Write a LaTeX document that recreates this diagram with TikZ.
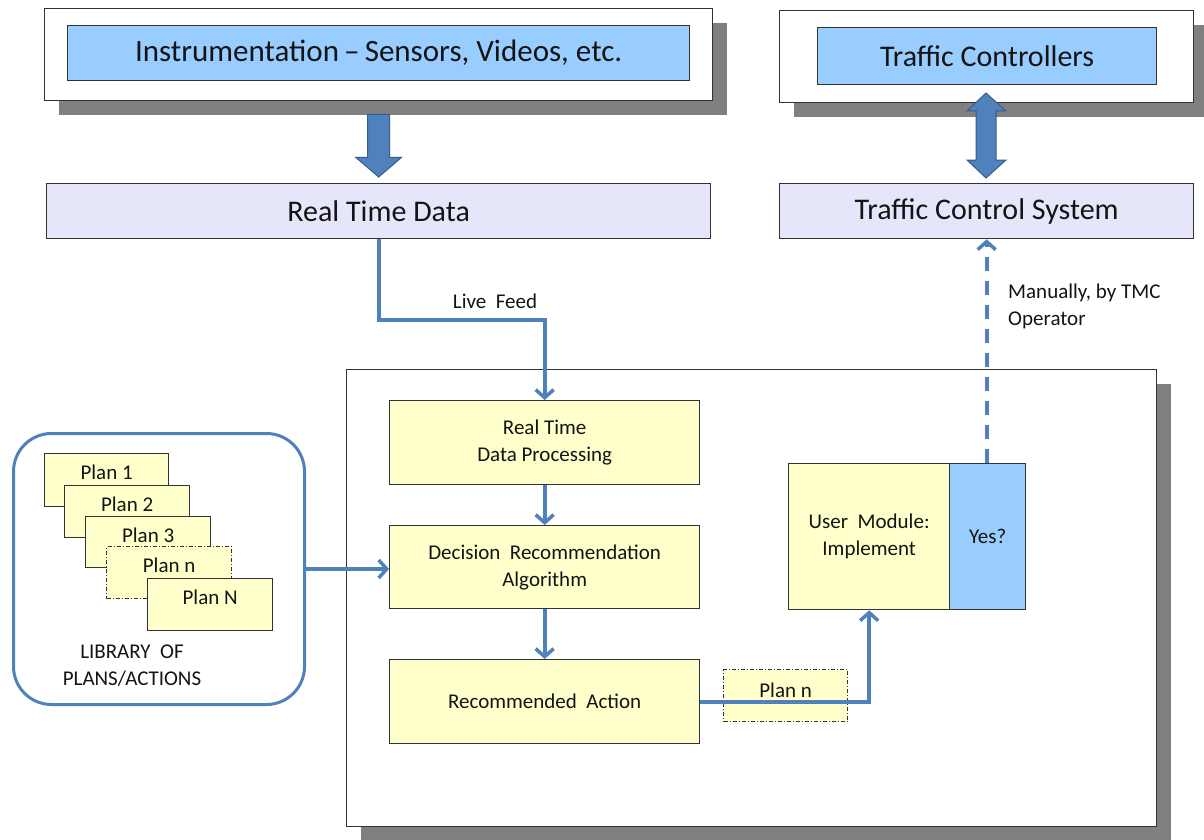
\documentclass[tikz,border=0pt]{standalone}
\usepackage{fontspec}
\setmainfont{Carlito}
\usetikzlibrary{arrows.meta,calc,shadows}
\definecolor{lblue}{RGB}{153,204,255}
\definecolor{lav}{RGB}{230,230,250}
\definecolor{lyel}{RGB}{255,255,204}
\definecolor{cblue}{RGB}{79,129,189}
\definecolor{cbord}{RGB}{56,93,138}
\definecolor{shad}{RGB}{128,128,128}
\definecolor{txt}{RGB}{20,20,20}
\tikzset{
  box/.style={draw=black!80, line width=1.3pt, inner sep=0pt, anchor=north west, align=center, text=txt},
  shadowed/.style={drop shadow={shadow xshift=14pt, shadow yshift=-14pt, fill=shad, opacity=1}},
  bigtxt/.style={font=\fontsize{30}{34}\selectfont},
  smtxt/.style={font=\fontsize{21}{27}\selectfont},
  yelbox/.style={box, fill=lyel, smtxt},
  planbox/.style={box, fill=lyel, minimum width=125pt, minimum height=52pt},
  plantxt/.style={smtxt, text=txt, anchor=north, inner sep=0pt, yshift=-12pt},
  conn/.style={draw=cblue, line width=3.8pt, -{Straight Barb[length=8pt,width=18pt,line width=3.5pt]}},
  blockarrow/.style={fill=cblue, draw=cbord, line width=1pt, line join=miter},
  dashdot/.style={dash pattern=on 4pt off 2pt on 1pt off 2pt},
}
\begin{document}
\begin{tikzpicture}[x=1pt,y=-1pt]
\useasboundingbox (0,0) rectangle (1204,840);
\fill[white] (0,0) rectangle (1204,840);

% top left
\node[box, fill=white, shadowed, minimum width=668pt, minimum height=92pt] (out1) at (44,8) {};
\node[box, fill=lblue, font=\fontsize{31}{34}\selectfont, minimum width=622pt, minimum height=55pt] (instr) at (67,25) {Instrumentation\,--\,Sensors, Videos, etc.};
\node[box, fill=lav, bigtxt, minimum width=664pt, minimum height=55pt] (rtd) at (46,183) {Real Time Data};

% top right
\node[box, fill=white, shadowed, minimum width=414pt, minimum height=92pt] (out2) at (779,10) {};
\node[box, fill=lblue, bigtxt, minimum width=339pt, minimum height=57pt] (tc) at (817,27) {Traffic Controllers};
\node[box, fill=lav, bigtxt, minimum width=414pt, minimum height=55pt] (tcs) at (779,183) {Traffic Control System};

% block arrows
\draw[blockarrow] ($(out1.south)+(-11,13)$) -- ($(out1.south)+(11,13)$) -- ($(out1.south)+(11,56)$)
  -- ($(out1.south)+(23,56)$) -- (rtd.north |- 0,177) -- ($(out1.south)+(-23,56)$) -- ($(out1.south)+(-11,56)$) -- cycle;
\coordinate (dtop) at (986,93);
\coordinate (dbot) at (986,178);
\draw[blockarrow] (dtop) -- ++(20,18) -- ++(-10,0) -- ++(0,49) -- ++(10,0) -- (dbot) -- ++(-19,-18) -- ++(9,0) -- ++(0,-49) -- ++(-9,0) -- cycle;

% main box
\node[box, fill=white, shadowed, minimum width=810pt, minimum height=457pt] (main) at (346,369) {};
\node[yelbox, minimum width=310pt, minimum height=84pt] (rtdp) at (389,400) {Real Time\\Data Processing};
\node[yelbox, minimum width=310pt, minimum height=83pt] (dra) at (389,525) {Decision\ \ Recommendation\\Algorithm};
\node[yelbox, minimum width=310pt, minimum height=84pt] (ra) at (389,659) {Recommended\ \ Action};
\node[yelbox, minimum width=161pt, minimum height=146pt] (um) at (788,463) {User\ \ Module:\\Implement};
\node[box, fill=lblue, smtxt, minimum width=76pt, minimum height=146pt] (yes) at (949,463) {Yes?};
\node[planbox, dashdot, minimum width=124pt] (pnb) at (723,669) {};
\node[plantxt, yshift=-2pt] (pnbt) at (pnb.north) {Plan n};

% library
\node[draw=cblue, line width=3pt, rounded corners=38pt, minimum width=291pt, minimum height=271pt, anchor=north west, inner sep=0pt] (lib) at (12,432) {};
\node[planbox, minimum width=124pt, minimum height=53pt] (p1) at (44,453) {};
\node[plantxt] (p1t) at (p1.north) {Plan 1};
\node[planbox] (p2) at (64,485) {};
\node[plantxt] (p2t) at (p2.north) {Plan 2};
\node[planbox, minimum height=51pt] (p3) at (85,516) {};
\node[plantxt] (p3t) at (p3.north) {Plan 3};
\node[planbox, dashdot] (pn) at (106,546) {};
\node[plantxt] (pnt) at (pn.north) {Plan n};
\node[planbox] (pN) at (147,578) {};
\node[plantxt] (pNt) at (pN.north) {Plan N};
\node[smtxt, text=txt, align=center, inner sep=0pt] (libt) at (132,666) {LIBRARY\ \ OF\\PLANS/ACTIONS};

% connectors
\draw[conn] (rtd.south) -- ++(0,81) coordinate (lf) -| (rtdp.north);
\node[smtxt, text=txt, inner sep=0pt] (lft) at (495,301) {Live\ \ Feed};
\draw[conn] (rtdp.south) -- (dra.north);
\draw[conn] (lib.east) -- (lib.east -| dra.west);
\draw[conn] (dra.south) -- (ra.north);
\draw[conn] (ra.east) -| (um.south);
\draw[conn, dash pattern=on 14pt off 10pt] (yes.north -| tcs.south) -- (tcs.south);
\node[smtxt, text=txt, align=left, anchor=west, inner sep=0pt] (man) at (1008,306) {Manually, by TMC\\Operator};
\end{tikzpicture}
\end{document}
